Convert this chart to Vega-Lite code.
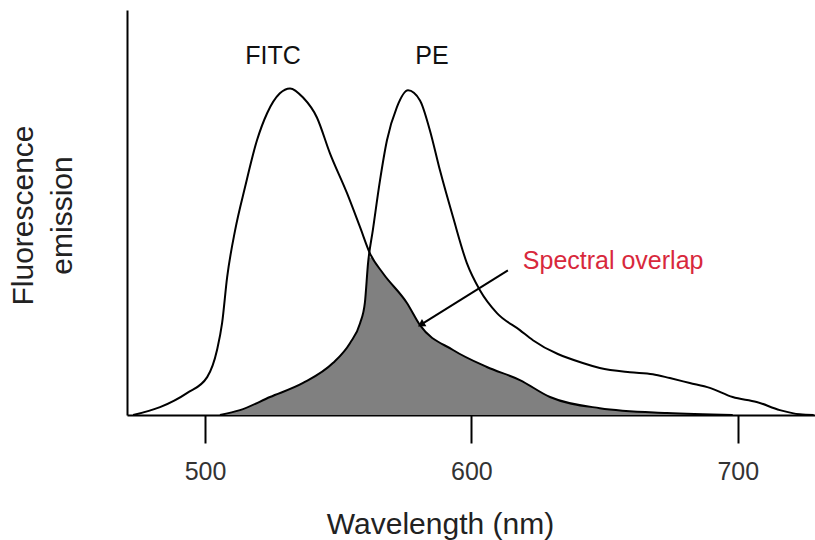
{
  "$schema": "https://vega.github.io/schema/vega-lite/v6.json",
  "width": 688,
  "height": 405,
  "autosize": {"type": "none"},
  "padding": {"left": 127, "top": 10, "right": 0, "bottom": 125},
  "background": "white",
  "config": {"view": {"stroke": null}, "font": "Liberation Sans"},
  "datasets": {
    "fitc": [
      {"wl": 473.0, "v": 0}, {"wl": 483.1, "v": 2.4}, {"wl": 493.2, "v": 6.7}, {"wl": 500.8, "v": 11.6},
      {"wl": 504.5, "v": 19.9}, {"wl": 506.4, "v": 28.1}, {"wl": 508.3, "v": 42.2}, {"wl": 511.3, "v": 56.6},
      {"wl": 515.0, "v": 69.7}, {"wl": 519.5, "v": 84.1}, {"wl": 523.3, "v": 92.4}, {"wl": 528.1, "v": 98.5},
      {"wl": 531.9, "v": 100}, {"wl": 536.8, "v": 97.2}, {"wl": 542.0, "v": 91.1}, {"wl": 546.9, "v": 80.1},
      {"wl": 553.3, "v": 67.9}, {"wl": 558.2, "v": 57.5}, {"wl": 561.9, "v": 49.5}, {"wl": 566.8, "v": 43.4},
      {"wl": 575.8, "v": 34.3}, {"wl": 580.7, "v": 27.5}, {"wl": 593.1, "v": 19.9}, {"wl": 605.8, "v": 14.7},
      {"wl": 618.2, "v": 10.7}, {"wl": 629.5, "v": 5.5}, {"wl": 648.2, "v": 2.1}, {"wl": 673.4, "v": 0.6},
      {"wl": 698.1, "v": 0}
    ],
    "pe": [
      {"wl": 505.6, "v": 0}, {"wl": 513.1, "v": 1.5}, {"wl": 524.4, "v": 5.5}, {"wl": 536.8, "v": 9.8},
      {"wl": 548.0, "v": 15.9}, {"wl": 554.4, "v": 22.0}, {"wl": 558.2, "v": 28.1}, {"wl": 560.0, "v": 34.3},
      {"wl": 561.2, "v": 46.5}, {"wl": 563.0, "v": 56.6}, {"wl": 565.7, "v": 71.9}, {"wl": 568.3, "v": 84.1},
      {"wl": 572.0, "v": 94.2}, {"wl": 576.2, "v": 99.4}, {"wl": 580.7, "v": 96.3}, {"wl": 584.4, "v": 87.2},
      {"wl": 588.2, "v": 74.9}, {"wl": 593.1, "v": 60.6}, {"wl": 598.3, "v": 46.5}, {"wl": 603.2, "v": 38.2},
      {"wl": 609.6, "v": 31.2}, {"wl": 618.2, "v": 26.0}, {"wl": 623.1, "v": 22.9}, {"wl": 641.8, "v": 15.9},
      {"wl": 648.2, "v": 14.4}, {"wl": 659.5, "v": 13.1}, {"wl": 668.1, "v": 12.5}, {"wl": 674.5, "v": 11.3},
      {"wl": 682.0, "v": 9.8}, {"wl": 689.5, "v": 8.3}, {"wl": 698.1, "v": 5.5}, {"wl": 707.1, "v": 4.0},
      {"wl": 715.8, "v": 1.5}, {"wl": 723.3, "v": 0.2}, {"wl": 728.5, "v": 0}
    ],
    "overlap": [
      {"wl": 505.6, "v": 0}, {"wl": 513.1, "v": 1.5}, {"wl": 524.4, "v": 5.5}, {"wl": 536.8, "v": 9.8},
      {"wl": 548.0, "v": 15.9}, {"wl": 554.4, "v": 22.0}, {"wl": 558.2, "v": 28.1}, {"wl": 560.0, "v": 34.3},
      {"wl": 561.2, "v": 46.5}, {"wl": 561.7, "v": 48.3}, {"wl": 566.8, "v": 43.4}, {"wl": 575.8, "v": 34.3},
      {"wl": 580.7, "v": 27.5}, {"wl": 593.1, "v": 19.9}, {"wl": 605.8, "v": 14.7}, {"wl": 618.2, "v": 10.7},
      {"wl": 629.5, "v": 5.5}, {"wl": 648.2, "v": 2.1}, {"wl": 673.4, "v": 0.6}, {"wl": 698.1, "v": 0}
    ]
  },
  "encoding": {
    "x": {
      "field": "wl", "type": "quantitative",
      "scale": {"domain": [470.7, 729], "nice": false, "zero": false},
      "axis": {
        "values": [500, 600, 700], "grid": false, "title": "Wavelength (nm)",
        "domainColor": "black", "domainWidth": 2, "tickColor": "black", "tickWidth": 2, "tickSize": 28,
        "labelFont": "Liberation Sans", "labelFontSize": 25, "labelColor": "#333", "labelBaseline": "alphabetic", "labelPadding": 36,
        "titleFont": "Liberation Sans", "titleFontSize": 30, "titleFontWeight": "normal", "titleColor": "#222",
        "titleX": 313, "titleY": 118, "titleBaseline": "alphabetic", "titleAlign": "center"
      }
    },
    "y": {
      "field": "v", "type": "quantitative",
      "scale": {"domain": [0, 124], "nice": false},
      "axis": {
        "labels": false, "ticks": false, "grid": false, "title": ["Fluorescence", "emission"],
        "domainColor": "black", "domainWidth": 2,
        "titleFont": "Liberation Sans", "titleFontSize": 30, "titleFontWeight": "normal", "titleColor": "#222",
        "titleLineHeight": 39, "titleAngle": -90, "titleX": -104, "titleY": 205, "titleBaseline": "middle", "titleAlign": "center"
      }
    }
  },
  "layer": [
    {"data": {"name": "overlap"}, "mark": {"type": "area", "color": "#808080", "opacity": 1, "interpolate": "monotone"}},
    {"data": {"name": "fitc"}, "mark": {"type": "line", "color": "black", "strokeWidth": 2, "interpolate": "monotone"}},
    {"data": {"name": "pe"}, "mark": {"type": "line", "color": "black", "strokeWidth": 2, "interpolate": "monotone"}},
    {
      "data": {"values": [{"x1": 613.7, "y1": 44.3, "x2": 581.5, "y2": 27.9}]},
      "mark": {"type": "rule", "color": "black", "strokeWidth": 2},
      "encoding": {
        "x": {"field": "x1", "type": "quantitative"}, "y": {"field": "y1", "type": "quantitative"},
        "x2": {"field": "x2"}, "y2": {"field": "y2"}
      }
    },
    {
      "data": {"values": [{"x": 581.5, "y": 27.9}]},
      "mark": {"type": "point", "shape": "triangle", "filled": true, "color": "black", "size": 70, "angle": 238, "opacity": 1},
      "encoding": {"x": {"field": "x", "type": "quantitative"}, "y": {"field": "y", "type": "quantitative"}}
    },
    {
      "data": {"values": [{"x": 525.5, "y": 110, "label": "FITC"}, {"x": 585.2, "y": 110, "label": "PE"}]},
      "mark": {"type": "text", "font": "Liberation Sans", "fontSize": 25, "color": "#111", "baseline": "middle", "align": "center"},
      "encoding": {"x": {"field": "x", "type": "quantitative"}, "y": {"field": "y", "type": "quantitative"}, "text": {"field": "label"}}
    },
    {
      "data": {"values": [{"x": 619.3, "y": 47.1, "label": "Spectral overlap"}]},
      "mark": {"type": "text", "font": "Liberation Sans", "fontSize": 25, "color": "#d8283c", "baseline": "middle", "align": "left"},
      "encoding": {"x": {"field": "x", "type": "quantitative"}, "y": {"field": "y", "type": "quantitative"}, "text": {"field": "label"}}
    }
  ]
}
